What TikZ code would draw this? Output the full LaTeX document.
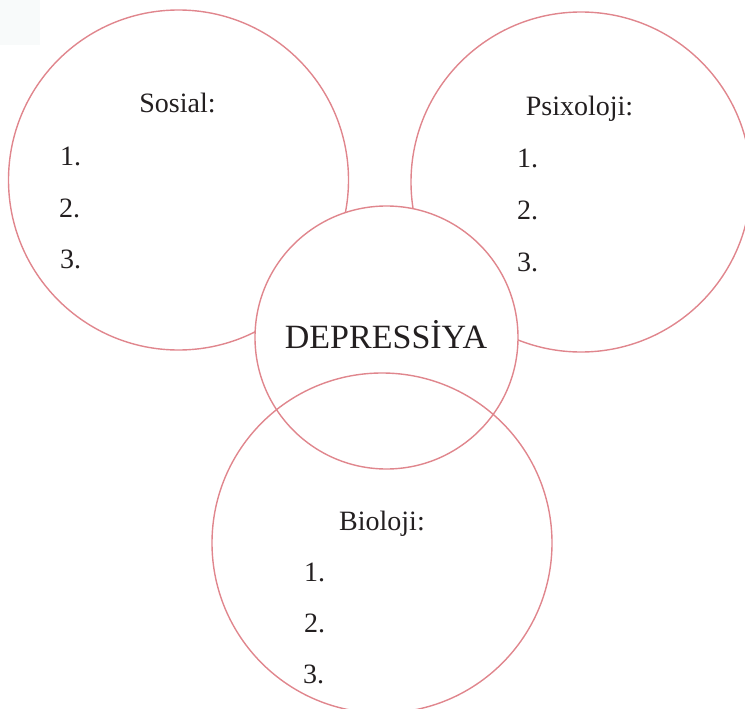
\documentclass[tikz,border=0pt]{standalone}
\usepackage{fontspec}
\setmainfont{Liberation Serif}
\definecolor{ring}{HTML}{E0868D}
\definecolor{ink}{HTML}{231F20}
\definecolor{faint}{HTML}{F8FAFA}
\begin{document}
\begin{tikzpicture}[x=1pt,y=-1pt,
  ringstyle/.style={circle, draw=ring, line width=1.4pt, inner sep=0pt, outer sep=0pt},
  head/.style={anchor=base, text=ink, font=\fontsize{28}{30}\selectfont, inner sep=0pt},
  item/.style={anchor=base west, text=ink, font=\fontsize{28}{30}\selectfont, inner sep=0pt},
  center/.style={anchor=base, text=ink, font=\fontsize{34}{36}\selectfont, inner sep=0pt}]
\useasboundingbox (0,0) rectangle (745,709);
\fill[faint] (0,0) rectangle (40,45);
% outer circles
\node[ringstyle, minimum size=340pt] (sos) at (178.5,180) {};
\node[ringstyle, minimum size=340pt] (psi) at (581,182) {};
% central circle (white, on top)
\node[ringstyle, fill=white, minimum size=263pt] (dep) at (386.5,337.5) {};
% bottom circle
\node[ringstyle, minimum size=340pt] (bio) at (382,543) {};
% texts
\node[center] (depT) at (386,348) {DEPRESSİYA};
\node[head] (sosT) at (177.5,113) {Sosial:};
\node[item] (s1) at (60,165) {1.};
\node[item] (s2) at (59,217) {2.};
\node[item] (s3) at (60,268) {3.};
\node[head] (psiT) at (579.5,115) {Psixoloji:};
\node[item] (p1) at (517,167) {1.};
\node[item] (p2) at (517,219) {2.};
\node[item] (p3) at (517,271) {3.};
\node[head] (bioT) at (382,530) {Bioloji:};
\node[item] (b1) at (304,581) {1.};
\node[item] (b2) at (304,632) {2.};
\node[item] (b3) at (303,683) {3.};
\end{tikzpicture}
\end{document}
